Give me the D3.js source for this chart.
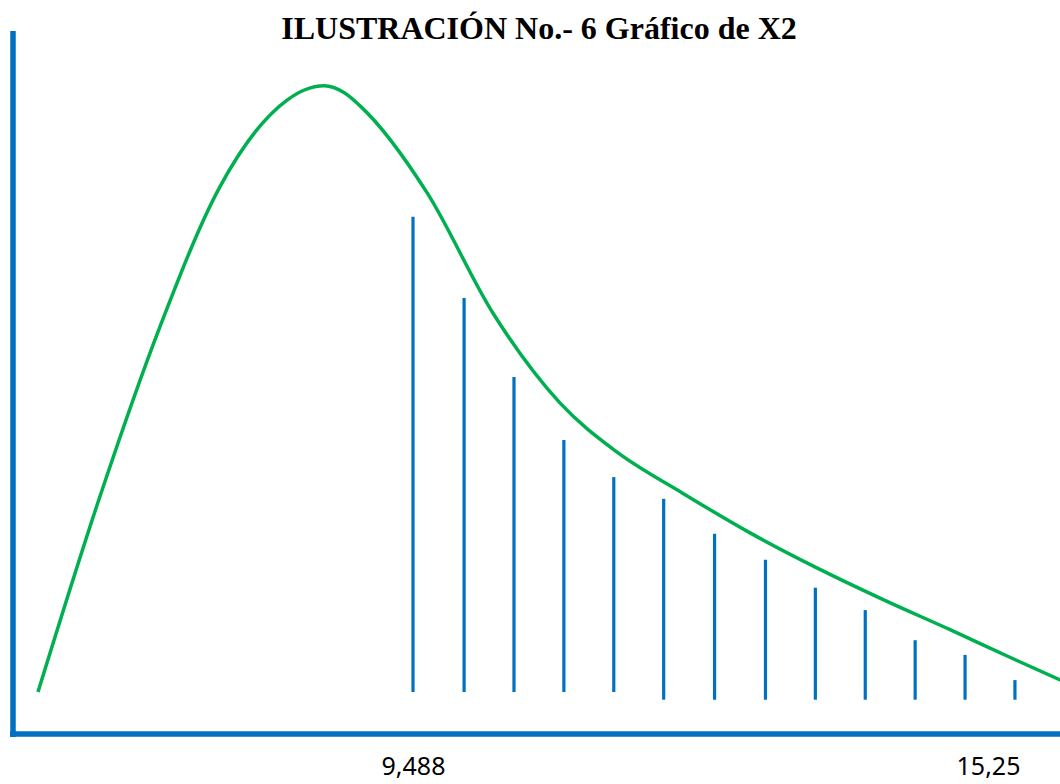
<!DOCTYPE html>
<html>
<head>
<meta charset="utf-8">
<script src="https://cdn.jsdelivr.net/npm/d3@7"></script>
<style>
  body { margin: 0; background: #ffffff; }
  svg { display: block; }
</style>
</head>
<body>
<div id="chart"></div>
<script>
// Set height and width for svg
var svgWidth = 1060;
var svgHeight = 784;

// chi-square curve (x in chi units, y in relative height)
var curveX = [5.73, 6.35, 6.95, 7.55, 8.23, 8.4, 8.6, 8.8, 8.96, 9.63, 10.29, 10.96, 11.53,
  12.19, 12.87, 13.54, 14.2, 14.87, 15.54, 16.1];
var curveY = [6.0, 33.9, 58.1, 78.1, 90.6, 92.0, 92.6, 91.6, 89.7, 77.3, 60.1, 47.3, 40.3,
  34.4, 28.7, 23.7, 19.2, 14.9, 10.5, 6.9];

// rejection region hatch lines
var hatchX = [9.488, 10.0, 10.5, 11.0, 11.5, 12.0, 12.51, 13.02, 13.52, 14.02, 14.52, 15.02, 15.52];
var hatchTop = [73.9, 62.3, 51.0, 42.0, 36.7, 33.6, 28.6, 24.9, 20.9, 17.7, 13.4, 11.3, 7.7];
var hatchBottom = [6.0, 6.0, 6.0, 6.0, 6.0, 4.9, 4.9, 4.9, 4.9, 4.9, 4.9, 4.9, 4.9];

// axis labels
var tickValues = [9.488, 15.25];
var tickLabels = ["9,488", "15,25"];
var title = "ILUSTRACIÓN No.- 6 Gráfico de X2";

var svg = d3
  .select("#chart")
  .append("svg")
  .attr("width", svgWidth)
  .attr("height", svgHeight);

// scales: the two labelled values fix the x scale
var xScale = d3.scaleLinear().domain([9.488, 15.25]).range([413, 988]);
var yScale = d3.scaleLinear().domain([0, 100]).range([734, 34]);

// title
svg
  .append("text")
  .attr("x", 539)
  .attr("y", 39)
  .attr("text-anchor", "middle")
  .style("font-family", "'Liberation Serif', 'Times New Roman', serif")
  .style("font-weight", "bold")
  .style("font-size", "32px")
  .text(title);

// hatch lines
svg
  .selectAll("line.hatch")
  .data(hatchX)
  .enter()
  .append("line")
  .attr("class", "hatch")
  .attr("x1", d => xScale(d))
  .attr("x2", d => xScale(d))
  .attr("y1", (d, i) => yScale(hatchTop[i]))
  .attr("y2", (d, i) => yScale(hatchBottom[i]))
  .attr("stroke", "#0070C0")
  .attr("stroke-width", 3.2);

// curve
var points = curveX.map((d, i) => [d, curveY[i]]);
var line = d3
  .line()
  .x(d => xScale(d[0]))
  .y(d => yScale(d[1]))
  .curve(d3.curveMonotoneX);

svg
  .append("path")
  .datum(points)
  .attr("d", line)
  .attr("fill", "none")
  .attr("stroke", "#00B050")
  .attr("stroke-width", 3.5);

// x axis (no ticks, only labels)
var xAxis = d3
  .axisBottom(xScale)
  .tickValues(tickValues)
  .tickFormat((d, i) => tickLabels[i])
  .tickSize(0)
  .tickPadding(23);

var xAxisGroup = svg
  .append("g")
  .attr("transform", `translate(0, ${yScale(0)})`)
  .call(xAxis);

xAxisGroup.select(".domain").remove();
xAxisGroup
  .selectAll("text")
  .style("font-family", "'Noto Sans', sans-serif")
  .style("font-size", "25px")
  .attr("fill", "#000000");

// axis lines
svg
  .append("line")
  .attr("x1", 13)
  .attr("x2", 13)
  .attr("y1", 31)
  .attr("y2", yScale(0) + 3)
  .attr("stroke", "#0070C0")
  .attr("stroke-width", 5.5);

svg
  .append("line")
  .attr("x1", 10)
  .attr("x2", svgWidth)
  .attr("y1", yScale(0))
  .attr("y2", yScale(0))
  .attr("stroke", "#0070C0")
  .attr("stroke-width", 5.5);
</script>
</body>
</html>
